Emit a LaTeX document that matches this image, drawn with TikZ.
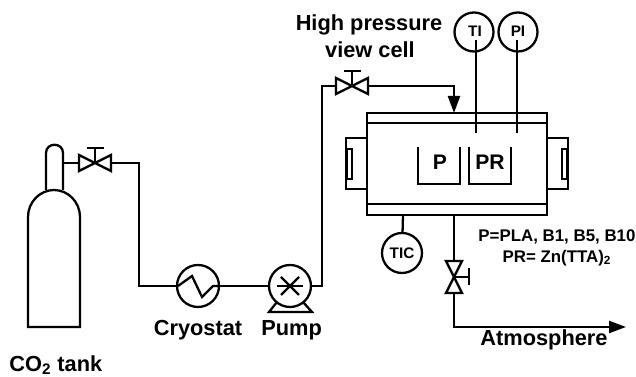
\documentclass[tikz,border=0pt]{standalone}
\usepackage{fontspec}
\setmainfont{Liberation Sans}
\usetikzlibrary{arrows.meta}
\tikzset{
	pipe/.style={line width=1.3pt,line join=miter},
	inst/.style={draw,circle,line width=1.3pt,inner sep=0pt,minimum size=0.8cm,fill=white,font=\fontsize{8.7}{10}\selectfont\bfseries},
	lbl/.style={inner sep=0pt,font=\fontsize{12.4}{14}\selectfont\bfseries},
	note/.style={inner sep=0pt,font=\fontsize{9.6}{11}\selectfont\bfseries},
	tip/.style={-{Triangle[length=0.34cm,width=0.24cm]}},
	pics/valve/.style={code={
		\draw[pipe] (-16,-8) -- (16,8) -- (16,-8) -- (-16,8) -- cycle;
		\draw[pipe] (0,0) -- (0,-15);
		\draw[pipe] (-8.5,-15) -- (8.5,-15);
		\coordinate (-in) at (-16,0);
		\coordinate (-out) at (16,0);
	}},
}
\begin{document}
\begin{tikzpicture}[x=0.02cm,y=-0.02cm]
	\useasboundingbox (0,0) rectangle (636,377);

	% tank
	\draw[pipe] (28,327) -- (28,217) .. controls (28,202) and (40,190) .. (54,190) .. controls (68,190) and (80,202) .. (80,217) -- (80,327) -- cycle;
	\draw[pipe] (46,190) -- (46,153) .. controls (46,142) and (63,142) .. (63,153) -- (63,190);
	\node[lbl,anchor=west] (tanklbl) at (9,365) {CO\textsubscript{2} tank};
	\coordinate (tankout) at (63,163);

	% line to the pump
	\pic (tankv) at (95,163) {valve};
	\coordinate (bend1) at (139,163);
	\coordinate (bend2) at (139,286);
	\node[inst,minimum size=0.84cm] (cryo) at (198,286) {};
	\node[inst,minimum size=0.84cm] (pump) at (290,286) {};
	\draw[pipe] (tankout) -- (tankv-in);
	\draw[pipe] (tankv-out) -- (bend1) -- (bend2) -- (cryo);
	\draw[pipe] (cryo) -- (pump);
	\draw[pipe] (178,286) -- (192,276) -- (202,297) -- (213,286) -- (218,286);
	\draw[pipe] (277,286) -- (303,286);
	\draw[pipe] (281,277) -- (299,295);
	\draw[pipe] (281,295) -- (299,277);
	\draw[pipe] (277,302) -- (269,312) -- (312,312) -- (303,302);
	\node[lbl] (cryolbl) at (198,330) {Cryostat};
	\node[lbl,anchor=west] (pumplbl) at (261,330) {Pump};

	% line to the cell
	\pic (cellv) at (352,86) {valve};
	\coordinate (bend3) at (322,286);
	\coordinate (bend4) at (322,86);
	\coordinate (bend5) at (454,86);
	\coordinate (cellin) at (454,113);
	\draw[pipe] (pump) -- (bend3) -- (bend4) -- (cellv-in);
	\draw[pipe,tip] (cellv-out) -- (bend5) -- (cellin);
	\node[lbl] (celllbl1) at (369,25) {High pressure};
	\node[lbl] (celllbl2) at (370,50) {view cell};

	% cell
	\draw[pipe] (367,113) rectangle (547,215);
	\draw[pipe] (367,123) -- (547,123);
	\draw[pipe] (367,204) -- (547,204);
	\draw[pipe] (367,138) -- (346,138) -- (346,189) -- (367,189);
	\draw[pipe] (352,149) rectangle (347,179);
	\draw[pipe] (547,138) -- (568,138) -- (568,189) -- (547,189);
	\draw[pipe] (562,149) rectangle (567,179);

	% beakers
	\draw[pipe] (418,147) -- (418,184) -- (460,184) -- (460,147);
	\draw[pipe] (469,147) -- (469,184) -- (511,184) -- (511,147);
	\node[lbl,font=\fontsize{12}{14}\selectfont\bfseries] (plbl) at (440,162) {P};
	\node[lbl,font=\fontsize{12}{14}\selectfont\bfseries] (prlbl) at (490,162) {PR};

	% instruments
	\node[inst,minimum size=0.78cm] (ti) at (474,32) {};
	\node[inst,minimum size=0.78cm] (pi) at (518,32) {};
	\node[note,font=\fontsize{8.7}{10}\selectfont\bfseries] (titxt) at (475,31) {TI};
	\node[note,font=\fontsize{8.7}{10}\selectfont\bfseries] (pitxt) at (518,31) {PI};
	\coordinate (tia) at (476,40);
	\coordinate (tib) at (476,133);
	\coordinate (pia) at (517,40);
	\coordinate (pib) at (517,133);
	\draw[pipe] (tia) -- (tib);
	\draw[pipe] (pia) -- (pib);
	\node[inst] (tic) at (402,253) {TIC};
	\coordinate (tictop) at (403,215);
	\draw[pipe] (tictop) -- (tic);

	% vent
	\pic[rotate=-90] (ventv) at (454,277) {valve};
	\coordinate (cellout) at (454,215);
	\coordinate (bend6) at (454,327);
	\coordinate (atm) at (626,327);
	\draw[pipe] (cellout) -- (ventv-in);
	\draw[pipe,tip] (ventv-out) -- (bend6) -- (atm);
	\node[lbl] (atmlbl) at (544,340) {Atmosphere};
	\node[note] (note1) at (557,237) {P=PLA, B1, B5, B10};
	\node[note] (note2) at (557,258) {PR= Zn(TTA)\textsubscript{2}};
\end{tikzpicture}
\end{document}
